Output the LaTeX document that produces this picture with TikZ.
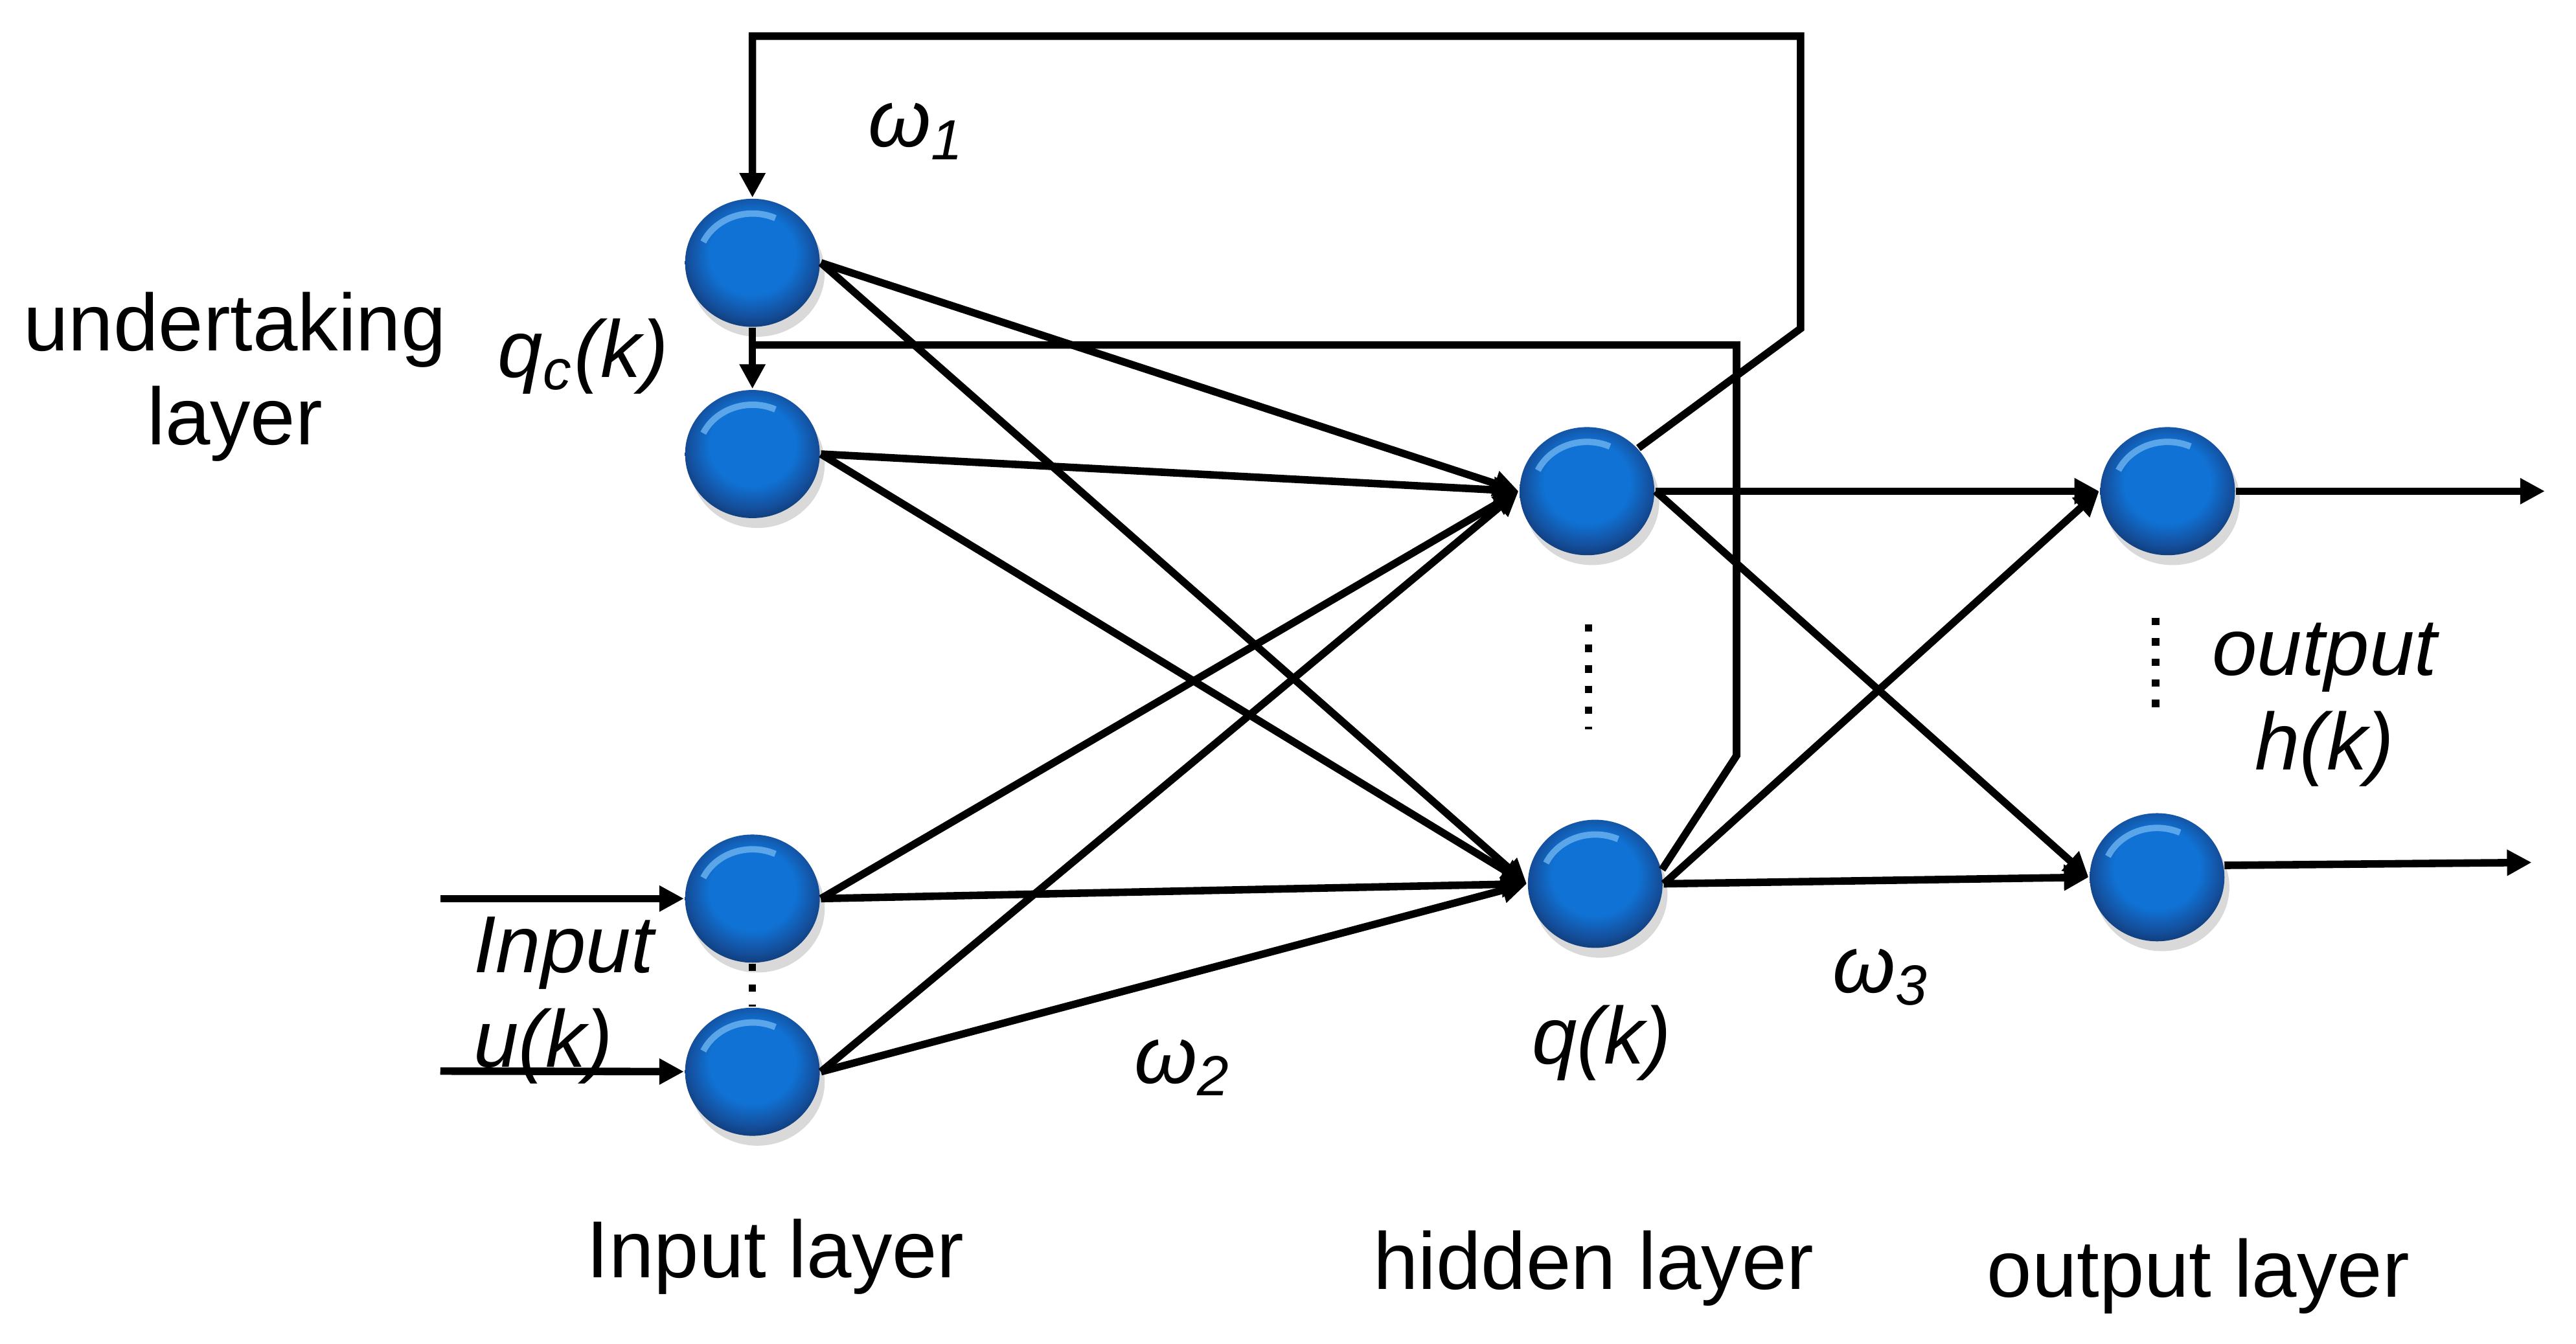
\documentclass[tikz,border=0pt]{standalone}
\usepackage{fontspec}
\setmainfont{Liberation Sans}
\usetikzlibrary{arrows.meta,positioning,shapes.geometric,shadows}
\definecolor{balltop}{RGB}{110,180,240}
\definecolor{ballmid}{RGB}{16,114,212}
\definecolor{ballbot}{RGB}{20,78,155}
\pgfdeclareradialshading{neuronball}{\pgfpoint{0bp}{5bp}}{color(0bp)=(ballmid); color(16bp)=(ballmid); color(24bp)=(ballbot); color(30bp)=(ballbot!65!black); color(50bp)=(ballbot!65!black)}

\begin{document}
\begin{tikzpicture}[
    node distance=1cm,
    neuron/.style={ellipse, minimum width=0.82cm, minimum height=0.78cm, inner sep=0pt,
        shading=neuronball,
        drop shadow={opacity=0.3, shadow xshift=0.3mm, shadow yshift=-0.6mm},
        path picture={\draw[shift={(path picture bounding box.center)}, balltop, opacity=0.8, line width=1.1pt]
            (155:0.33cm and 0.3cm) arc[start angle=155, end angle=65, x radius=0.33cm, y radius=0.3cm];}},
    arrow/.style={-{Triangle[length=1.5mm, width=1.5mm]}, line width=1.3pt},
    wire/.style={line width=1.3pt},
    dots/.style={line width=1.3pt, dash pattern=on 0.45mm off 0.8mm},
    lbl/.style={font=\fontsize{14}{16.3}\selectfont, inner sep=0pt, align=center},
    ilbl/.style={lbl, font=\fontsize{14}{16.3}\selectfont\itshape}
]
\useasboundingbox (0,0) rectangle (15.68,8.18);

\node[neuron] (c1) at (4.58,6.58) {};
\node[neuron, below=0.37cm of c1] (c2) {};
\node[neuron] (i1) at (4.58,2.71) {};
\node[neuron, below=0.26cm of i1] (i2) {};
\node[neuron] (h1) at (9.66,5.19) {};
\node[neuron] (h2) at (9.71,2.80) {};
\node[neuron, right=2.7cm of h1] (o1) {};
\node[neuron] (o2) at (13.13,2.84) {};

\coordinate (u1) at (2.68,2.71);
\coordinate (u2) at (2.68,1.66);
\coordinate (y1) at (15.49,5.19);
\coordinate (y2) at (15.41,2.93);
\coordinate (join) at (4.58,6.08);

\node[ilbl] (w1) at (5.58,7.38) {ω\textsubscript{1}};
\node[lbl] (under) at (1.43,5.885) {undertaking\\layer};
\node[ilbl] (qc) at (3.55,6.01) {q\textsubscript{c}(k)};
\node[ilbl, align=left] (uk) at (3.43,2.09) {Input\\u(k)};
\node[ilbl] (w2) at (7.20,1.68) {ω\textsubscript{2}};
\node[ilbl] (qk) at (9.75,1.83) {q(k)};
\node[ilbl] (w3) at (11.45,2.23) {ω\textsubscript{3}};
\node[ilbl] (hk) at (14.15,3.89) {output\\h(k)};
\node[lbl] (inl) at (4.72,0.53) {Input layer};
\node[lbl] (hidl) at (9.70,0.46) {hidden layer};
\node[lbl] (outl) at (13.38,0.41) {output layer};

\draw[arrow] (h1.40) -- (10.96,6.18) -- (10.96,7.96) -| (c1.north);
\draw[wire] (h2.12) -- (10.57,3.58) -- (10.57,6.08) -- (join);
\draw[arrow] (c1.south) -- (c2.north);

\draw[arrow] (u1) -- (i1);
\draw[arrow] (u2) -- (i2);

\draw[arrow] (c1.east) -- (h1.west);
\draw[arrow] (c1.east) -- (h2.west);
\draw[arrow] (c2.east) -- (h1.west);
\draw[arrow] (c2.east) -- (h2.west);
\draw[arrow] (i1.east) -- (h1.west);
\draw[arrow] (i1.east) -- (h2.west);
\draw[arrow] (i2.east) -- (h1.west);
\draw[arrow] (i2.east) -- (h2.west);

\draw[arrow] (h1.east) -- (o1.west);
\draw[arrow] (h1.east) -- (o2.west);
\draw[arrow] (h2.east) -- (o1.west);
\draw[arrow] (h2.east) -- (o2.west);

\draw[arrow] (o1) -- (y1);
\draw[arrow] (o2.10) -- (y2);

\draw[dots] (i1.south) -- (i2.north);
\draw[dots] (9.67,4.38) -- (9.67,3.74);
\draw[dots] (13.12,4.42) -- (13.12,3.80);
\end{tikzpicture}
\end{document}
